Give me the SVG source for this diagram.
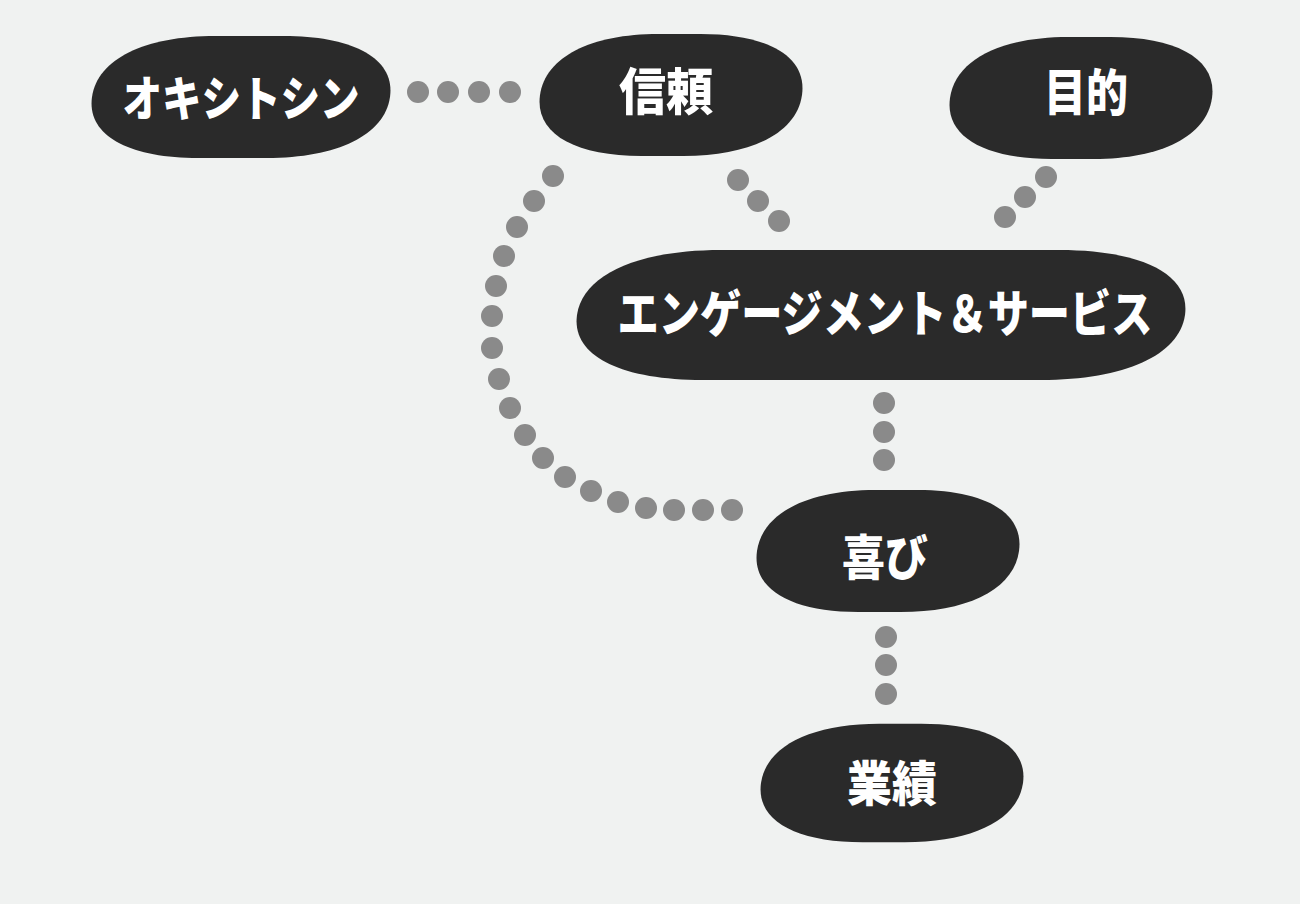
<svg xmlns="http://www.w3.org/2000/svg" xmlns:xlink="http://www.w3.org/1999/xlink" width="1300" height="904" viewBox="0 0 1300 904">
<style>
.blob{fill:#2a2a2a}
.lbl{fill:#ffffff;font-family:"Noto Sans CJK JP","Noto Sans",sans-serif;font-weight:900;text-anchor:middle}
.dot{fill:#8a8a8a}
</style>
<defs>
<path id="pill" d="M21,-61 L-21,-61 C-89,-61 -131,-38 -131,0 C-131,38 -89,61 -21,61 L21,61 C89,61 131,38 131,0 C131,-38 89,-61 21,-61Z"/>
</defs>
<rect x="0" y="0" width="1300" height="904" fill="#f0f2f1"/>
<g id="connectors">
<circle class="dot" cx="418" cy="92" r="11"/>
<circle class="dot" cx="448" cy="92" r="11"/>
<circle class="dot" cx="479" cy="92" r="11"/>
<circle class="dot" cx="510" cy="92" r="11"/>
<circle class="dot" cx="738" cy="180" r="11"/>
<circle class="dot" cx="758" cy="201" r="11"/>
<circle class="dot" cx="779" cy="221" r="11"/>
<circle class="dot" cx="1046" cy="177" r="11"/>
<circle class="dot" cx="1025" cy="197" r="11"/>
<circle class="dot" cx="1005" cy="217" r="11"/>
<circle class="dot" cx="553" cy="176" r="11"/>
<circle class="dot" cx="534" cy="201" r="11"/>
<circle class="dot" cx="517" cy="227" r="11"/>
<circle class="dot" cx="504" cy="256" r="11"/>
<circle class="dot" cx="496" cy="286" r="11"/>
<circle class="dot" cx="492" cy="316" r="11"/>
<circle class="dot" cx="492" cy="348" r="11"/>
<circle class="dot" cx="499" cy="379" r="11"/>
<circle class="dot" cx="510" cy="408" r="11"/>
<circle class="dot" cx="525" cy="435" r="11"/>
<circle class="dot" cx="543" cy="458" r="11"/>
<circle class="dot" cx="565" cy="477" r="11"/>
<circle class="dot" cx="591" cy="491" r="11"/>
<circle class="dot" cx="618" cy="502" r="11"/>
<circle class="dot" cx="646" cy="508" r="11"/>
<circle class="dot" cx="674" cy="510" r="11"/>
<circle class="dot" cx="703" cy="510" r="11"/>
<circle class="dot" cx="732" cy="510" r="11"/>
<circle class="dot" cx="884" cy="403" r="11"/>
<circle class="dot" cx="884" cy="432" r="11"/>
<circle class="dot" cx="884" cy="460" r="11"/>
<circle class="dot" cx="886" cy="637" r="11"/>
<circle class="dot" cx="886" cy="665" r="11"/>
<circle class="dot" cx="886" cy="694" r="11"/>
</g>
<g id="node-oxytocin">
<path class="blob" transform="translate(241,97) skewX(-8)" d="M34,-61 L-34,-61 C-105,-61 -149,-38 -149,0 C-149,38 -105,61 -34,61 L34,61 C105,61 149,38 149,0 C149,-38 105,-61 34,-61Z"/>
<text class="lbl" x="241" y="116" font-size="48" textLength="237" lengthAdjust="spacingAndGlyphs">オキシトシン</text>
</g>
<g id="node-trust">
<use href="#pill" xlink:href="#pill" class="blob" transform="translate(671,95) skewX(-8)"/>
<text class="lbl" x="666" y="110" font-size="50" textLength="94" lengthAdjust="spacingAndGlyphs">信頼</text>
</g>
<g id="node-purpose">
<use href="#pill" xlink:href="#pill" class="blob" transform="translate(1081,98) skewX(-8)"/>
<text class="lbl" x="1086" y="111" font-size="50" textLength="84" lengthAdjust="spacingAndGlyphs">目的</text>
</g>
<g id="node-engagement">
<path class="blob" transform="translate(881,315) skewX(-8)" d="M169,-65 L-169,-65 C-253,-65 -304,-40 -304,0 C-304,40 -253,65 -169,65 L169,65 C253,65 304,40 304,0 C304,-40 253,-65 169,-65Z"/>
<text class="lbl" x="885" y="332" font-size="50" textLength="535" lengthAdjust="spacingAndGlyphs">エンゲージメント＆サービス</text>
</g>
<g id="node-joy">
<use href="#pill" xlink:href="#pill" class="blob" transform="translate(888,551) skewX(-8)"/>
<text class="lbl" x="885" y="575" font-size="48" textLength="86" lengthAdjust="spacingAndGlyphs">喜び</text>
</g>
<g id="node-performance">
<use href="#pill" xlink:href="#pill" class="blob" transform="translate(892,783) skewX(-8) scale(1,0.97)"/>
<text class="lbl" x="892" y="801" font-size="48" textLength="90" lengthAdjust="spacingAndGlyphs">業績</text>
</g>
</svg>
